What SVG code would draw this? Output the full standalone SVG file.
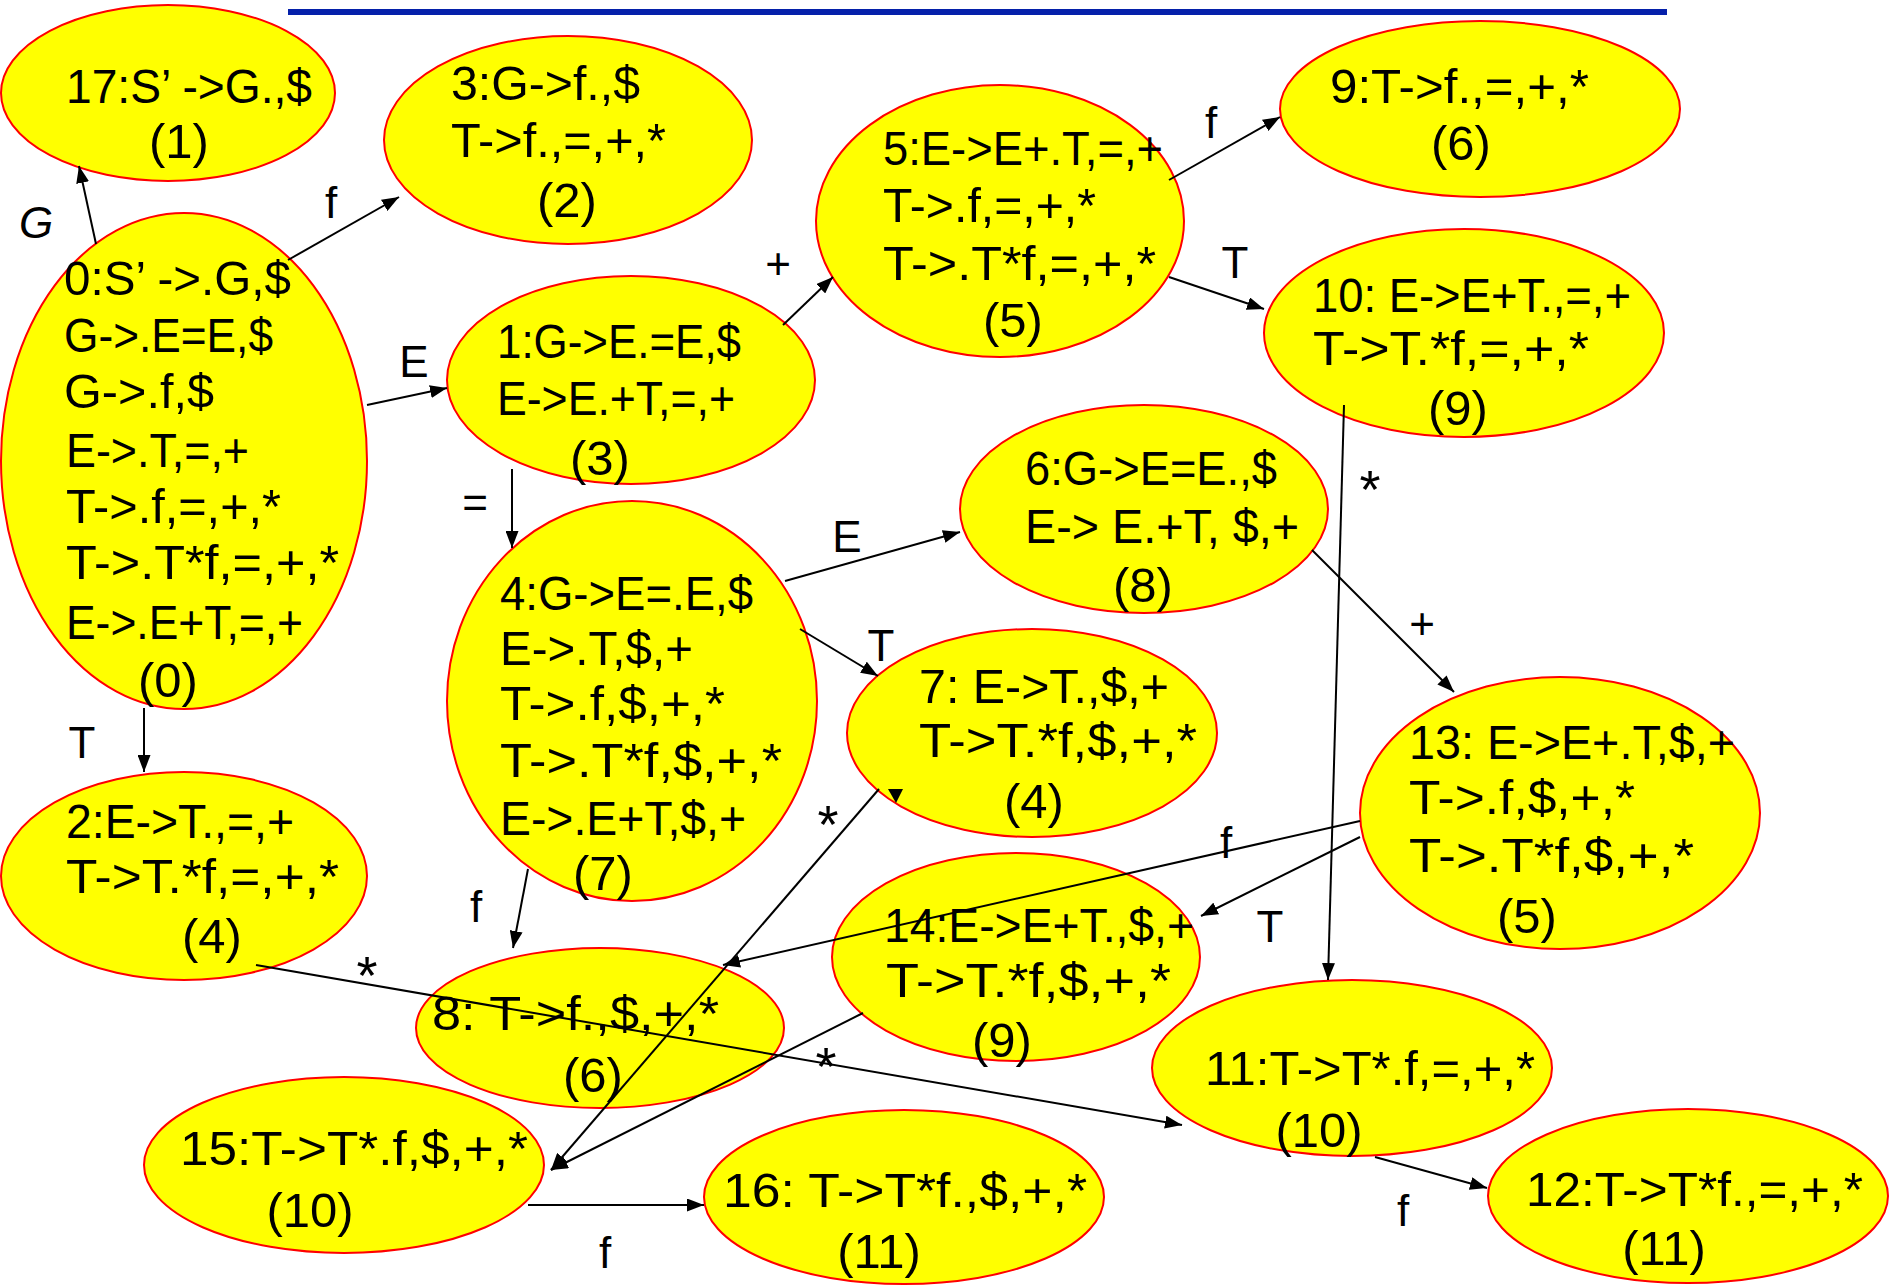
<svg xmlns="http://www.w3.org/2000/svg" width="1892" height="1285" viewBox="0 0 1892 1285">
<style>
.n ellipse{fill:#ffff00;stroke:#ff0000;stroke-width:2}
text{font-family:"Liberation Sans",Arial,sans-serif;fill:#000}
.n text{font-size:49px}
.n text.m{text-anchor:middle}
.c line{stroke:#000;stroke-width:2;marker-end:url(#arr)}
.lbl text{font-size:44px;text-anchor:middle}
.lbl text.s{font-size:54px}
</style>
<defs>
<marker id="arr" markerWidth="17" markerHeight="13" refX="17" refY="6.5" orient="auto" markerUnits="userSpaceOnUse"><path d="M0,0 L17,6.5 L0,13 z" fill="#000"/></marker>
</defs>
<rect x="288" y="9" width="1379" height="6" fill="#0520aa"/>

<g id="n17" class="n"><ellipse cx="168" cy="93" rx="167" ry="88"/>
<text x="66" y="103" textLength="246" lengthAdjust="spacingAndGlyphs">17:S’ -&gt;G.,$</text>
<text class="m" x="179" y="158">(1)</text></g>

<g id="n3" class="n"><ellipse cx="568" cy="140" rx="184" ry="104"/>
<text x="451" y="100" textLength="189" lengthAdjust="spacingAndGlyphs">3:G-&gt;f.,$</text>
<text x="451" y="157" textLength="215" lengthAdjust="spacingAndGlyphs">T-&gt;f.,=,+,*</text>
<text class="m" x="567" y="217">(2)</text></g>

<g id="n0" class="n"><ellipse cx="184" cy="461" rx="183" ry="248"/>
<text x="64" y="295" textLength="227" lengthAdjust="spacingAndGlyphs">0:S’ -&gt;.G,$</text>
<text x="64" y="352" textLength="209" lengthAdjust="spacingAndGlyphs">G-&gt;.E=E,$</text>
<text x="64" y="408" textLength="150" lengthAdjust="spacingAndGlyphs">G-&gt;.f,$</text>
<text x="66" y="467" textLength="183" lengthAdjust="spacingAndGlyphs">E-&gt;.T,=,+</text>
<text x="66" y="523" textLength="215" lengthAdjust="spacingAndGlyphs">T-&gt;.f,=,+,*</text>
<text x="66" y="579" textLength="273" lengthAdjust="spacingAndGlyphs">T-&gt;.T*f,=,+,*</text>
<text x="66" y="639" textLength="237" lengthAdjust="spacingAndGlyphs">E-&gt;.E+T,=,+</text>
<text class="m" x="168" y="697">(0)</text></g>

<g id="n1" class="n"><ellipse cx="631" cy="380" rx="184" ry="104"/>
<text x="497" y="358" textLength="244" lengthAdjust="spacingAndGlyphs">1:G-&gt;E.=E,$</text>
<text x="497" y="415" textLength="238" lengthAdjust="spacingAndGlyphs">E-&gt;E.+T,=,+</text>
<text class="m" x="600" y="475">(3)</text></g>

<g id="n5" class="n"><ellipse cx="1000" cy="221" rx="184" ry="136"/>
<text x="883" y="165" textLength="280" lengthAdjust="spacingAndGlyphs">5:E-&gt;E+.T,=,+</text>
<text x="883" y="222" textLength="213" lengthAdjust="spacingAndGlyphs">T-&gt;.f,=,+,*</text>
<text x="883" y="280" textLength="273" lengthAdjust="spacingAndGlyphs">T-&gt;.T*f,=,+,*</text>
<text class="m" x="1013" y="337">(5)</text></g>

<g id="n9" class="n"><ellipse cx="1480" cy="109" rx="200" ry="88"/>
<text x="1330" y="103" textLength="259" lengthAdjust="spacingAndGlyphs">9:T-&gt;f.,=,+,*</text>
<text class="m" x="1461" y="160">(6)</text></g>

<g id="n10" class="n"><ellipse cx="1464" cy="333" rx="200" ry="104"/>
<text x="1313" y="312" textLength="318" lengthAdjust="spacingAndGlyphs">10: E-&gt;E+T.,=,+</text>
<text x="1313" y="365" textLength="276" lengthAdjust="spacingAndGlyphs">T-&gt;T.*f,=,+,*</text>
<text class="m" x="1458" y="425">(9)</text></g>

<g id="n4" class="n"><ellipse cx="632" cy="701" rx="185" ry="200"/>
<text x="500" y="610" textLength="253" lengthAdjust="spacingAndGlyphs">4:G-&gt;E=.E,$</text>
<text x="500" y="665" textLength="193" lengthAdjust="spacingAndGlyphs">E-&gt;.T,$,+</text>
<text x="500" y="720" textLength="225" lengthAdjust="spacingAndGlyphs">T-&gt;.f,$,+,*</text>
<text x="500" y="777" textLength="282" lengthAdjust="spacingAndGlyphs">T-&gt;.T*f,$,+,*</text>
<text x="500" y="835" textLength="246" lengthAdjust="spacingAndGlyphs">E-&gt;.E+T,$,+</text>
<text class="m" x="603" y="890">(7)</text></g>

<g id="n2" class="n"><ellipse cx="184" cy="876" rx="183" ry="104"/>
<text x="66" y="838" textLength="228" lengthAdjust="spacingAndGlyphs">2:E-&gt;T.,=,+</text>
<text x="66" y="893" textLength="273" lengthAdjust="spacingAndGlyphs">T-&gt;T.*f,=,+,*</text>
<text class="m" x="212" y="953">(4)</text></g>

<g id="n6" class="n"><ellipse cx="1144" cy="509" rx="184" ry="104"/>
<text x="1025" y="485" textLength="252" lengthAdjust="spacingAndGlyphs">6:G-&gt;E=E.,$</text>
<text x="1025" y="543" textLength="274" lengthAdjust="spacingAndGlyphs">E-&gt; E.+T, $,+</text>
<text class="m" x="1143" y="602">(8)</text></g>

<g id="n7" class="n"><ellipse cx="1032" cy="733" rx="185" ry="104"/>
<text x="919" y="703" textLength="250" lengthAdjust="spacingAndGlyphs">7: E-&gt;T.,$,+</text>
<text x="919" y="757" textLength="278" lengthAdjust="spacingAndGlyphs">T-&gt;T.*f,$,+,*</text>
<text class="m" x="1034" y="818">(4)</text></g>

<g id="n13" class="n"><ellipse cx="1560" cy="813" rx="200" ry="136"/>
<text x="1409" y="759" textLength="326" lengthAdjust="spacingAndGlyphs">13: E-&gt;E+.T,$,+</text>
<text x="1409" y="814" textLength="226" lengthAdjust="spacingAndGlyphs">T-&gt;.f,$,+,*</text>
<text x="1409" y="872" textLength="285" lengthAdjust="spacingAndGlyphs">T-&gt;.T*f,$,+,*</text>
<text class="m" x="1527" y="933">(5)</text></g>

<g id="n14" class="n"><ellipse cx="1016" cy="957" rx="184" ry="104"/>
<text x="884" y="942" textLength="310" lengthAdjust="spacingAndGlyphs">14:E-&gt;E+T.,$,+</text>
<text x="886" y="997" textLength="285" lengthAdjust="spacingAndGlyphs">T-&gt;T.*f,$,+,*</text>
<text class="m" x="1002" y="1057">(9)</text></g>

<g id="n8" class="n"><ellipse cx="600" cy="1028" rx="184" ry="80"/>
<text x="432" y="1030" textLength="287" lengthAdjust="spacingAndGlyphs">8: T-&gt;f.,$,+,*</text>
<text class="m" x="593" y="1092">(6)</text></g>

<g id="n15" class="n"><ellipse cx="344" cy="1165" rx="200" ry="88"/>
<text x="180" y="1165" textLength="348" lengthAdjust="spacingAndGlyphs">15:T-&gt;T*.f,$,+,*</text>
<text class="m" x="310" y="1227">(10)</text></g>

<g id="n16" class="n"><ellipse cx="904" cy="1197" rx="200" ry="87"/>
<text x="723" y="1207" textLength="364" lengthAdjust="spacingAndGlyphs">16: T-&gt;T*f.,$,+,*</text>
<text class="m" x="879" y="1268">(11)</text></g>

<g id="n11" class="n"><ellipse cx="1352" cy="1068" rx="200" ry="88"/>
<text x="1205" y="1085" textLength="330" lengthAdjust="spacingAndGlyphs">11:T-&gt;T*.f,=,+,*</text>
<text class="m" x="1319" y="1147">(10)</text></g>

<g id="n12" class="n"><ellipse cx="1688" cy="1196" rx="200" ry="87"/>
<text x="1526" y="1206" textLength="337" lengthAdjust="spacingAndGlyphs">12:T-&gt;T*f.,=,+,*</text>
<text class="m" x="1664" y="1265">(11)</text></g>

<g id="connectors" class="c">
<line x1="96" y1="244" x2="79" y2="166"/>
<line x1="288" y1="260" x2="399" y2="197"/>
<line x1="367" y1="405" x2="447" y2="388"/>
<line x1="783" y1="325" x2="833" y2="277"/>
<line x1="1169" y1="180" x2="1280" y2="117"/>
<line x1="1169" y1="277" x2="1264" y2="309"/>
<line x1="512" y1="469" x2="512" y2="548"/>
<line x1="144" y1="708" x2="144" y2="772"/>
<line x1="785" y1="581" x2="960" y2="532"/>
<line x1="800" y1="629" x2="878" y2="676"/>
<line x1="528" y1="869" x2="513" y2="948"/>
<line x1="1344" y1="405" x2="1328" y2="980"/>
<line x1="1312" y1="550" x2="1454" y2="692"/>
<line x1="1360" y1="821" x2="723" y2="965"/>
<line x1="1360" y1="837" x2="1201" y2="916"/>
<line x1="256" y1="965" x2="1182" y2="1125"/>
<line x1="879" y1="789" x2="551" y2="1170"/>
<line x1="863" y1="1013" x2="551" y2="1170"/>
<line x1="528" y1="1205" x2="704" y2="1205"/>
<line x1="1375" y1="1157" x2="1487" y2="1188"/>
<polygon points="888,789 903,789 896,803" fill="#000"/>
</g>

<g id="labels" class="lbl">
<text x="36" y="238" font-style="italic">G</text>
<text x="331" y="218">f</text>
<text x="414" y="377">E</text>
<text x="778" y="279">+</text>
<text x="1211" y="138">f</text>
<text x="1235" y="278">T</text>
<text x="475" y="518">=</text>
<text x="82" y="758">T</text>
<text x="847" y="552">E</text>
<text x="881" y="661">T</text>
<text x="476" y="922">f</text>
<text class="s" x="1370" y="508">*</text>
<text x="1422" y="639">+</text>
<text x="1226" y="858">f</text>
<text x="1270" y="942">T</text>
<text class="s" x="367" y="994">*</text>
<text class="s" x="828" y="843">*</text>
<text class="s" x="826" y="1085">*</text>
<text x="605" y="1268">f</text>
<text x="1403" y="1226">f</text>
</g>
</svg>
